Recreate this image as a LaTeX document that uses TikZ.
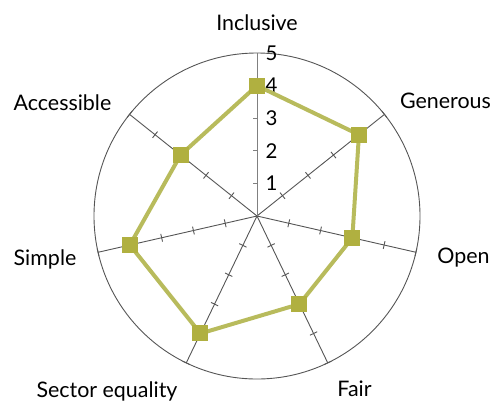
\documentclass[tikz,border=0pt]{standalone}
\usepackage{fontspec}
\setmainfont{Lato}
\usepackage{tikz}

\definecolor{chartgreen}{RGB}{176,176,64}
\definecolor{linegreen}{RGB}{184,187,92}
\definecolor{gridgray}{RGB}{85,85,85}

\tikzset{
    grid line/.style={gridgray, line width=0.9bp},
    score line/.style={linegreen, line width=4bp, line join=round},
    score box/.style={fill=chartgreen, minimum size=16bp, inner sep=0pt},
    axis label/.style={anchor=base, font=\fontsize{21.5}{24}\selectfont},
    scale label/.style={anchor=west, font=\fontsize{20.5}{22}\selectfont}
}

\begin{document}
\begin{tikzpicture}[x=1bp, y=1bp]
    \useasboundingbox (-257,-187) rectangle (236,216);
    \def\R{163}
    \def\u{32.6}

    % Outer circle
    \draw[grid line] (0,0) circle (\R);

    % Spokes with ticks (Inclusive handled below)
    \foreach \i in {1,...,6} {
        \pgfmathsetmacro{\a}{90-\i*360/7}
        \draw[grid line] (0,0) -- (\a:\R);
        \foreach \k in {1,...,5}
            \draw[grid line] (\a:\k*\u) ++(\a+90:4) -- ++(\a-90:8);
    }
    \draw[grid line, gray] (0,0) -- (0,\R);
    \foreach \k in {1,...,4}
        \draw[grid line, gray] (0,\k*\u) -- ++(-4,0);

    % Scale numbers
    \foreach \k in {1,...,5}
        \node[scale label] (n\k) at (5,\k*\u) {\k};

    % Scores: Inclusive, Generous, Open, Fair, Sector equality, Simple, Accessible
    \foreach \v [count=\i from 0] in {4,4,3,3,4,4,3}
        \coordinate (p\i) at ({90-\i*360/7}:\v*\u);
    \draw[score line] (p0) -- (p1) -- (p2) -- (p3) -- (p4) -- (p5) -- (p6) -- cycle;
    \foreach \i in {0,...,6}
        \node[score box] (s\i) at (p\i) {};

    % Axis labels
    \node[axis label] (inclusive)  at (0,186)      {Inclusive};
    \node[axis label] (generous)   at (188.5,108)  {Generous};
    \node[axis label] (open)       at (206.5,-47)  {Open};
    \node[axis label] (fair)       at (97.5,-180)  {Fair};
    \node[axis label] (sector)     at (-150,-181)  {Sector equality};
    \node[axis label] (simple)     at (-212,-49)   {Simple};
    \node[axis label] (accessible) at (-194.5,106) {Accessible};
\end{tikzpicture}
\end{document}
